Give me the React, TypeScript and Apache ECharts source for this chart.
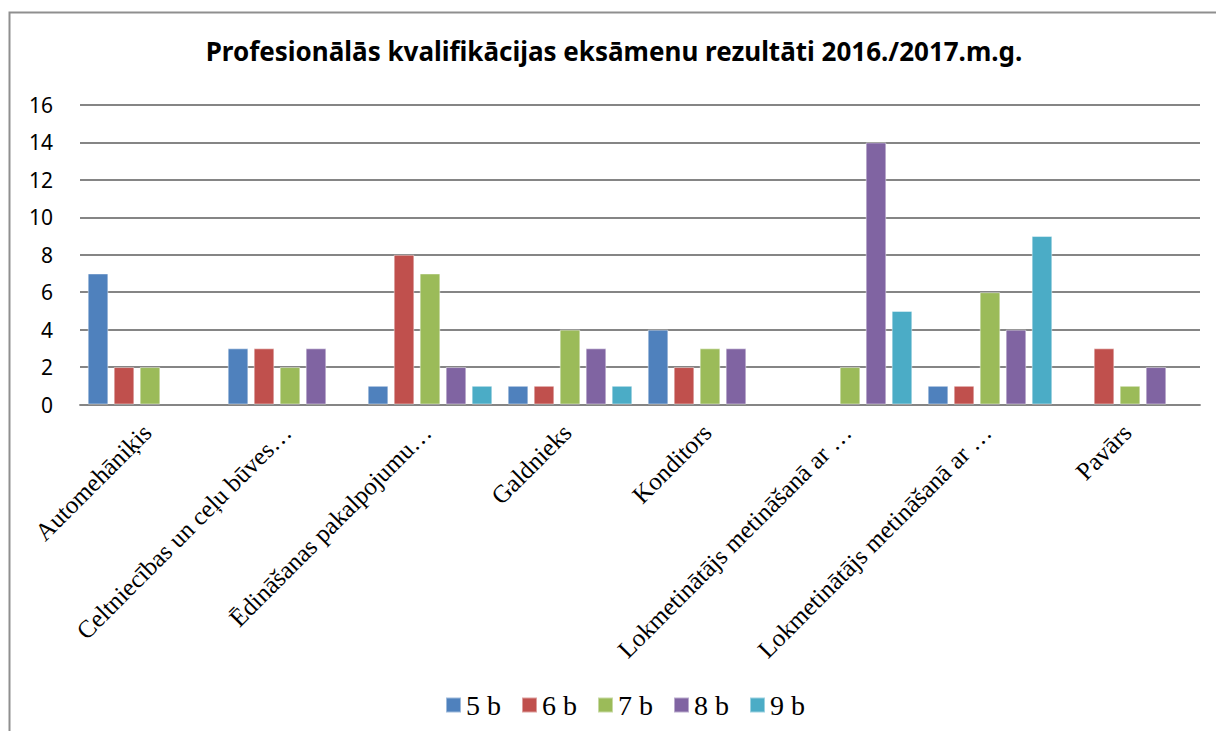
import React, { useEffect, useRef } from "react";
import * as echarts from "echarts";

const titleText = "Profesionālās kvalifikācijas eksāmenu rezultāti 2016./2017.m.g.";

const categories = [
  "Automehāniķis",
  "Celtniecības un ceļu būves…",
  "Ēdināšanas pakalpojumu…",
  "Galdnieks",
  "Konditors",
  "Lokmetinātājs metināšanā ar …",
  "Lokmetinātājs metināšanā ar …",
  "Pavārs",
];

const seriesNames = ["5 b", "6 b", "7 b", "8 b", "9 b"];

const values5b = [7, 3, 1, 1, 4, null, 1, null];
const values6b = [2, 3, 8, 1, 2, null, 1, 3];
const values7b = [2, 2, 7, 4, 3, 2, 6, 1];
const values8b = [null, 3, 2, 3, 3, 14, 4, 2];
const values9b = [null, null, 1, 1, null, 5, 9, null];

const colors = ["#4F81BD", "#C0504D", "#9BBB59", "#8064A2", "#4BACC6"];

const yTicks = { min: 0, max: 16, interval: 2 };

export default function App() {
  const ref = useRef<HTMLDivElement>(null);

  useEffect(() => {
    if (!ref.current) return;
    const chart = echarts.init(ref.current, undefined, { renderer: "svg" });
    const allValues = [values5b, values6b, values7b, values8b, values9b];
    chart.setOption({
      animation: false,
      backgroundColor: "#ffffff",
      title: {
        text: titleText,
        left: 609,
        textAlign: "center",
        top: 33,
        textStyle: {
          fontFamily: "Noto Sans",
          fontWeight: "bold",
          fontSize: 26,
          color: "#000000",
        },
      },
      graphic: [
        {
          type: "rect",
          shape: { x: 9.5, y: 12.5, width: 1400, height: 900 },
          style: { fill: "none", stroke: "#8f8f8f", lineWidth: 2 },
          silent: true,
          z: 100,
        },
      ],
      legend: {
        left: 440,
        top: 686,
        itemWidth: 15,
        itemHeight: 15,
        itemGap: 20,
        icon: "rect",
        data: seriesNames,
        textStyle: {
          fontFamily: "Liberation Serif",
          fontSize: 28,
          color: "#000000",
        },
      },
      grid: {
        left: 80,
        right: 16,
        top: 105,
        bottom: 326.5,
        containLabel: false,
      },
      xAxis: {
        type: "category",
        data: categories,
        axisLine: { show: true, lineStyle: { color: "#858585", width: 1.8 } },
        axisTick: { show: false },
        axisLabel: {
          interval: 0,
          rotate: 45,
          margin: 21,
          padding: [0, 4, 0, 0],
          fontFamily: "Liberation Serif",
          fontSize: 25,
          color: "#000000",
        },
      },
      yAxis: {
        type: "value",
        min: yTicks.min,
        max: yTicks.max,
        interval: yTicks.interval,
        axisLine: { show: false },
        axisTick: { show: false },
        splitLine: { lineStyle: { color: "#858585", width: 1.8 } },
        axisLabel: {
          margin: 27,
          fontFamily: "Noto Sans",
          fontSize: 21,
          color: "#000000",
        },
      },
      series: seriesNames.map((name, i) => ({
        name,
        type: "bar",
        data: allValues[i],
        barGap: "26%",
        barCategoryGap: "11%",
        itemStyle: {
          color: colors[i],
          borderColor: "rgba(255,255,255,0.45)",
          borderWidth: 1,
        },
      })),
    });
    return () => chart.dispose();
  }, []);

  return (
    <div
      ref={ref}
      style={{ position: "fixed", left: 0, top: 0, width: 1216, height: 731 }}
    />
  );
}
